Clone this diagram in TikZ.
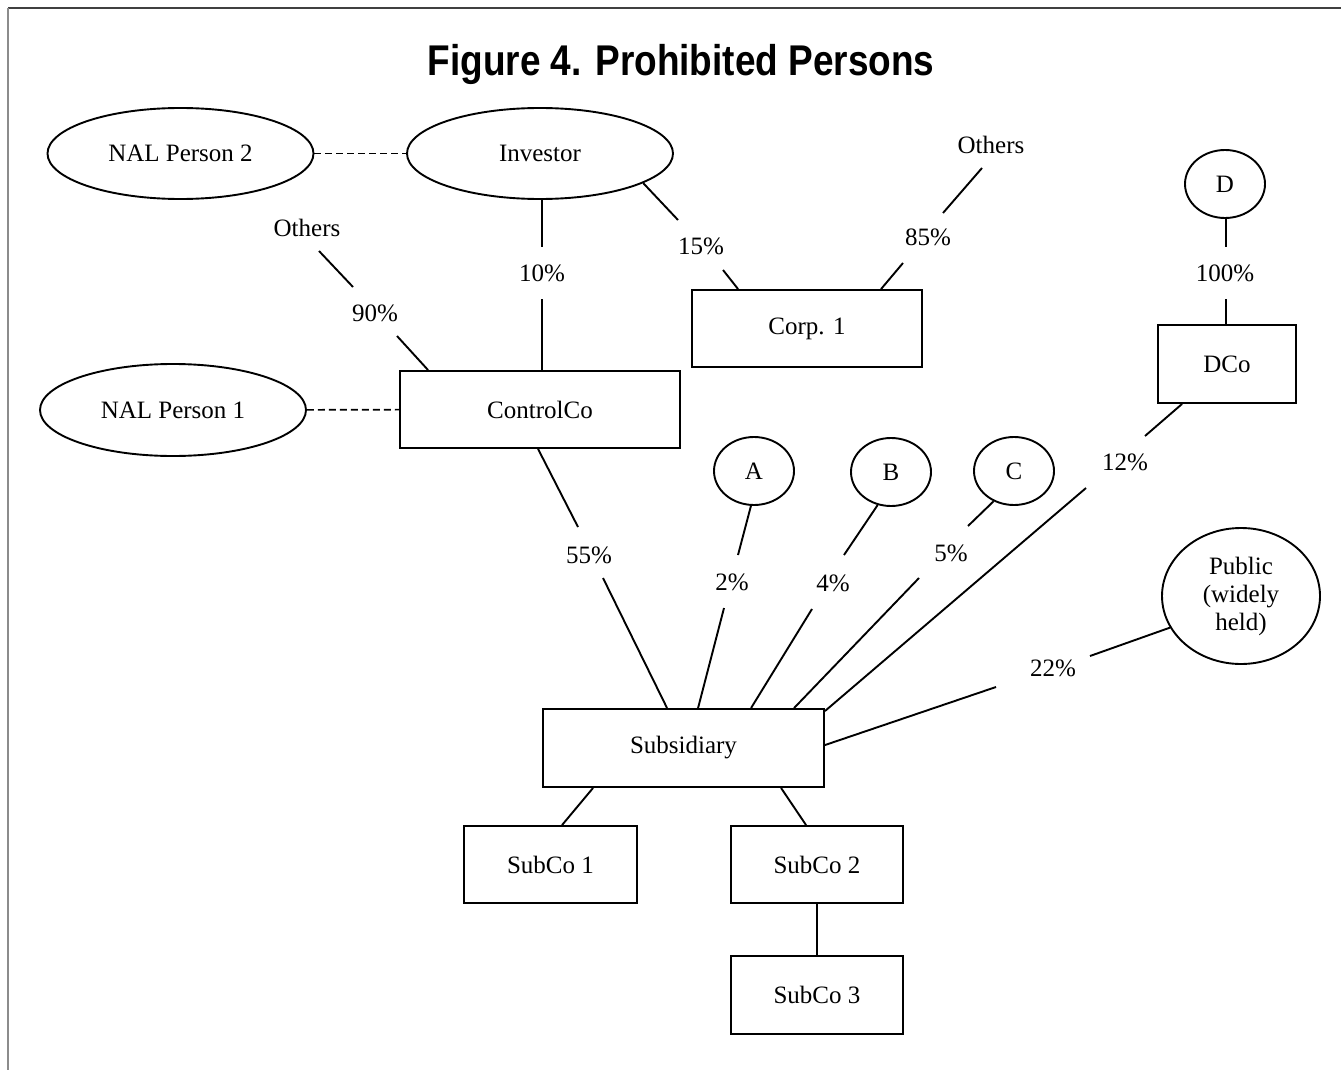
\documentclass[tikz,border=0pt]{standalone}
\usepackage{fontspec}
\usepackage{graphicx}
\setmainfont{Liberation Serif}
\newfontfamily\titlefont{Liberation Sans}
\usetikzlibrary{shapes.geometric,calc}
\tikzset{
  every node/.style={font=\fontsize{25}{28}\selectfont, inner sep=0pt},
  box/.style={draw, rectangle, line width=1.9pt},
  oval/.style={draw, ellipse, line width=1.9pt},
  conn/.style={line width=1.9pt},
  link/.style={line width=1.6pt, dash pattern=on 7pt off 4pt},
  pct/.style={inner sep=0pt},
  titlestyle/.style={font=\titlefont\bfseries\fontsize{43}{50}\selectfont, anchor=base},
  framecol/.style={line width=2pt}
}
\begin{document}
\begin{tikzpicture}[x=1pt,y=-1pt]
\useasboundingbox (0,0) rectangle (1341,1070);
% frame
\draw[framecol, black!75] (8,8) -- (1341,8);
\draw[framecol, black!45] (8,8) -- (8,1070);

% title
\node[titlestyle] (title) at (681,75.5) {\scalebox{0.86}[1]{Figure 4. Prohibited Persons}};

% ellipses
\node[oval, minimum width=266pt, minimum height=91pt] (nal2) at (180.5,153.5) {NAL Person 2};
\node[oval, minimum width=266pt, minimum height=91pt] (inv) at (540,153.5) {Investor};
\node[oval, minimum width=266pt, minimum height=92pt] (nal1) at (173,410) {NAL Person 1};
\node[oval, minimum width=80pt, minimum height=68pt] (A) at (754,471) {A};
\node[oval, minimum width=80pt, minimum height=68pt] (B) at (891,472) {B};
\node[oval, minimum width=80pt, minimum height=68pt] (C) at (1014,471) {C};
\node[oval, minimum width=80pt, minimum height=68pt] (D) at (1225,184) {D};
\node[oval, minimum width=158pt, minimum height=136pt, align=center] (pub) at (1241,596) {Public\\(widely\\held)};

% boxes
\node[box, minimum width=280pt, minimum height=77pt] (ctrl) at (540,409.5) {ControlCo};
\node[box, minimum width=230pt, minimum height=77pt] (corp) at (807,328.5) {Corp. 1};
\node[box, minimum width=138pt, minimum height=78pt] (dco) at (1227,364) {DCo};
\node[box, minimum width=281pt, minimum height=78pt] (sub) at (683.5,748) {Subsidiary};
\node[box, minimum width=173pt, minimum height=77pt] (sc1) at (550.5,864.5) {SubCo 1};
\node[box, minimum width=172pt, minimum height=77pt] (sc2) at (817,864.5) {SubCo 2};
\node[box, minimum width=172pt, minimum height=78pt] (sc3) at (817,995) {SubCo 3};

% free labels
\node (othL) at (307,228) {Others};
\node (othR) at (991,145) {Others};
\node[pct] (l90) at (375,313) {90\%};
\node[pct] (l10) at (542,273) {10\%};
\node[pct] (l15) at (701,246) {15\%};
\node[pct] (l85) at (928,237) {85\%};
\node[pct] (l100) at (1225,273) {100\%};
\node[pct] (l55) at (589,555) {55\%};
\node[pct] (l2) at (732,582) {2\%};
\node[pct] (l4) at (833,583) {4\%};
\node[pct] (l5) at (951,553) {5\%};
\node[pct] (l12) at (1125,462) {12\%};
\node[pct] (l22) at (1053,668) {22\%};

% gap end coordinates
\coordinate (g90a) at (319,251); \coordinate (g90b) at (353,287);
\coordinate (g90c) at (397,336);
\coordinate (g10a) at (542,247); \coordinate (g10b) at (542,299);
\coordinate (g15a) at (678,220); \coordinate (g15b) at (723,270);
\coordinate (g85a) at (982,168); \coordinate (g85b) at (943,213);
\coordinate (g85c) at (903,263);
\coordinate (g100a) at (1226,247); \coordinate (g100b) at (1226,299);
\coordinate (g55a) at (578,527); \coordinate (g55b) at (603,578);
\coordinate (g2a) at (738,555); \coordinate (g2b) at (724,608);
\coordinate (g4a) at (844,555); \coordinate (g4b) at (812,609);
\coordinate (g5a) at (968,526); \coordinate (g5b) at (919,578);
\coordinate (g12a) at (1145,436); \coordinate (g12b) at (1086,488);
\coordinate (g22a) at (1090,656); \coordinate (g22b) at (996,687);

% dashed links
\draw[link] (nal2) -- (inv);
\draw[link] (nal1) -- (ctrl);

% ownership lines
\draw[conn] (g90a) -- (g90b);
\draw[conn] (g90c) -- ($(ctrl.north west)+(29,0)$);
\draw[conn] (inv.south -| g10a) -- (g10a);
\draw[conn] (g10b) -- (ctrl.north -| g10b);
\draw[conn] (inv.-16) -- (g15a);
\draw[conn] (g15b) -- ($(corp.north west)+(47,0)$);
\draw[conn] (g85a) -- (g85b);
\draw[conn] (g85c) -- ($(corp.north west)+(190,0)$);
\draw[conn] (D.south -| g100a) -- (g100a);
\draw[conn] (g100b) -- (dco.north -| g100b);
\draw[conn] ($(ctrl.south west)+(139,0)$) -- (g55a);
\draw[conn] (g55b) -- ($(sub.north west)+(125,0)$);
\draw[conn] (A.-95) -- (g2a);
\draw[conn] (g2b) -- ($(sub.north west)+(156,0)$);
\draw[conn] (B.-112) -- (g4a);
\draw[conn] (g4b) -- ($(sub.north west)+(209,0)$);
\draw[conn] (C.-124) -- (g5a);
\draw[conn] (g5b) -- ($(sub.north west)+(252,0)$);
\draw[conn] ($(dco.south west)+(25,0)$) -- (g12a);
\draw[conn] (g12b) -- ($(sub.north east)+(0,3)$);
\draw[conn] (pub.-156) -- (g22a);
\draw[conn] (g22b) -- ($(sub.north east)+(0,37)$);
\draw[conn] ($(sub.south west)+(51,0)$) -- ($(sc1.north west)+(99,0)$);
\draw[conn] ($(sub.south west)+(239,0)$) -- ($(sc2.north west)+(76,0)$);
\draw[conn] (sc2.south) -- (sc3.north);
\end{tikzpicture}
\end{document}
